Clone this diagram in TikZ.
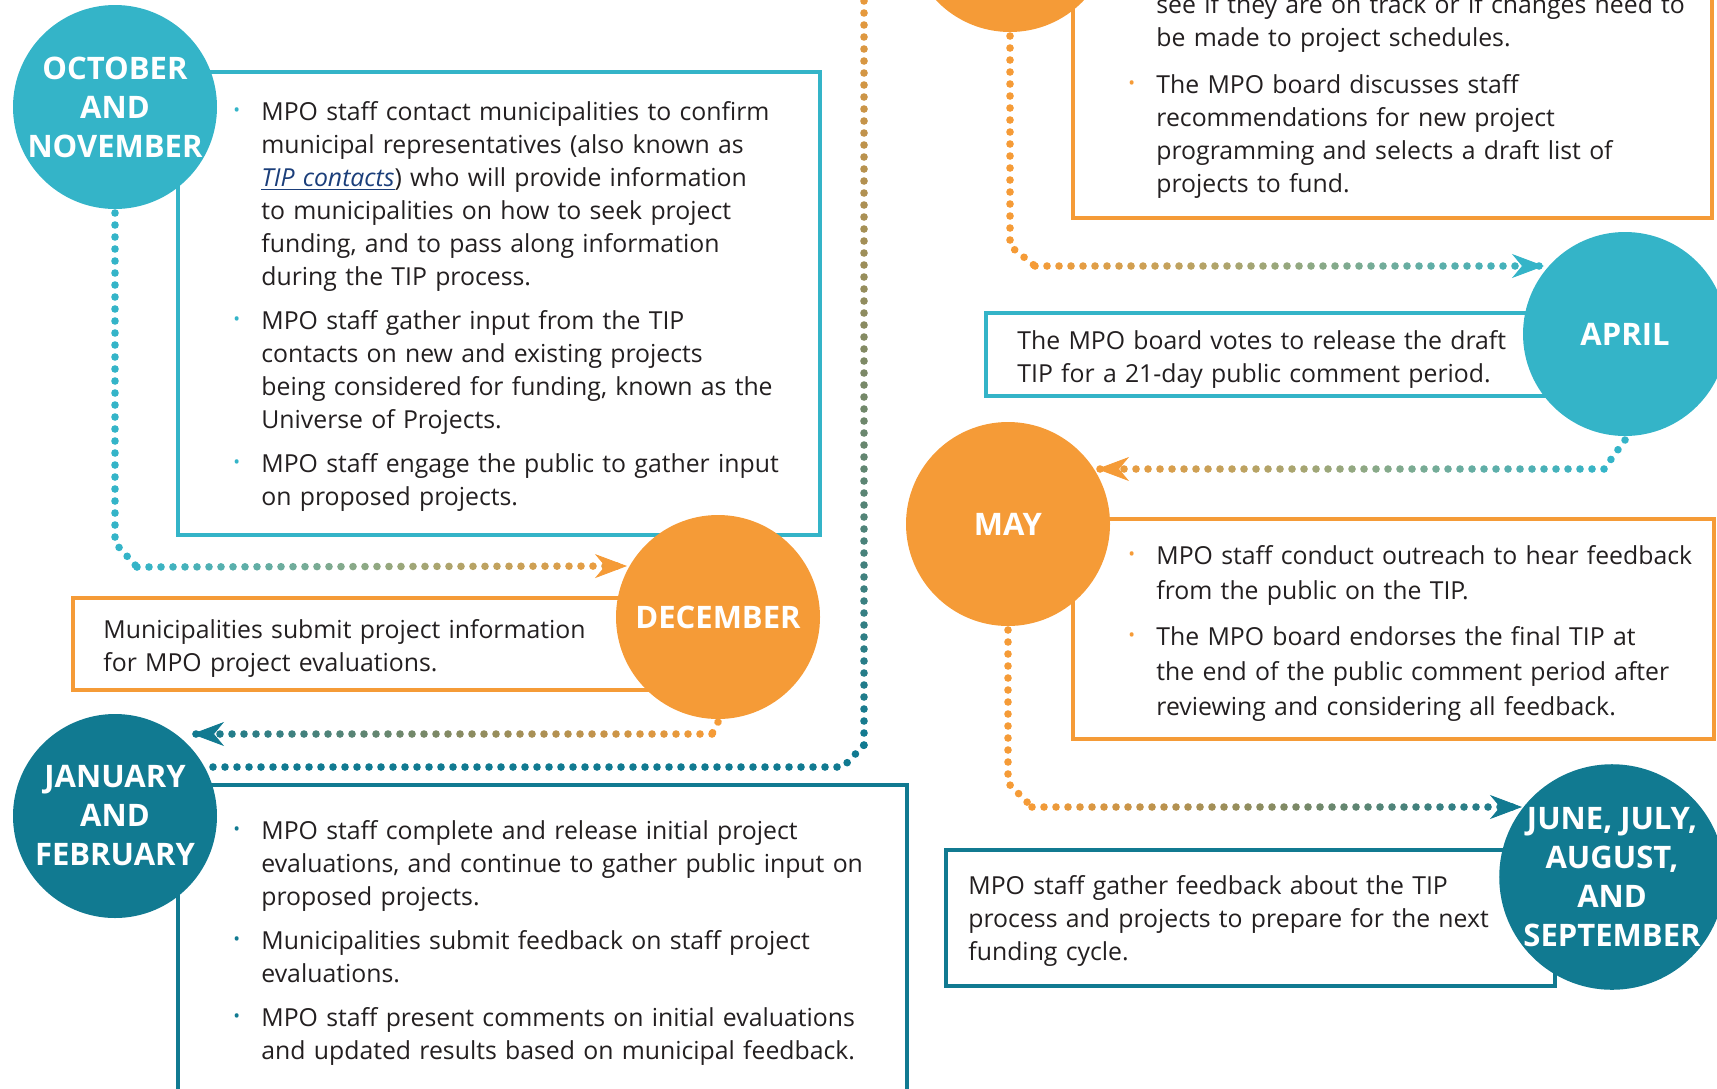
\documentclass[tikz,border=0pt]{standalone}
\usepackage{fontspec}
\setmainfont{Open Sans}
\usetikzlibrary{arrows.meta, calc, decorations.markings, fit}

\definecolor{tiplight}{HTML}{34B4C8}
\definecolor{tiporange}{HTML}{F59B37}
\definecolor{tipdark}{HTML}{117A91}
\definecolor{tiptext}{HTML}{231F20}
\definecolor{tiplink}{HTML}{1B3E7A}

% one bullet of a step list: colour, text
\newcommand\tipitem[2]{{\leftskip=14pt\noindent
  \llap{\makebox[14pt][l]{\raisebox{2pt}{\textcolor{#1}{\fontsize{9}{9}\selectfont\textbullet}}}}\strut #2\par}\vspace{5.5pt}}

\tikzset{
	month/.style={circle, minimum size=102pt, inner sep=0pt, text=white, align=center,
		font=\fontsize{15.5}{19.5}\selectfont\bfseries},
	panel/.style={draw=#1, line width=2.2pt, inner sep=0pt},
	blurb/.style={anchor=north west, inner sep=0pt, text width=360pt, align=left, text=tiptext,
		font=\fontsize{12.4}{16.5}\selectfont},
	dots/.style={decorate, decoration={markings,
		mark=between positions 0 and 1 step 6pt with {\fill[#1] (0,0) circle (1.9pt);}}},
	fade/.style 2 args={decorate, decoration={markings,
		mark=between positions 0 and 1 step 6pt with {%
			\pgfmathtruncatemacro\fademix{(\pgfkeysvalueof{/pgf/decoration/mark info/distance from start}/\pgfdecoratedpathlength)*100}%
			\fill[#2!\fademix!#1] (0,0) circle (1.9pt);},
		mark=at position 1 with {\arrow[#2]{Stealth[length=16pt, width=12pt, inset=5pt]}}}},
}

\begin{document}
\begin{tikzpicture}[x=0.5pt, y=-0.5pt]
	\useasboundingbox (0,0) rectangle (1717,1088);

	% boxes
	\node[panel=tiplight, fit={(178,72) (820,535)}] (octbox) {};
	\node[panel=tiporange, fit={(73,598) (700,690)}] (decbox) {};
	\node[panel=tipdark, fit={(178,785) (907,1120)}] (janbox) {};
	\node[panel=tiporange, fit={(1073,-200) (1712,218)}] (marbox) {};
	\node[panel=tiplight, fit={(986,313) (1600,396)}] (aprbox) {};
	\node[panel=tiporange, fit={(1073,519) (1714,739)}] (maybox) {};
	\node[panel=tipdark, fit={(946,850) (1555,986)}] (junbox) {};

	% texts
	\node[blurb] (octtext) at (233,97) {%
		\tipitem{tiplight}{MPO staff contact municipalities to confirm\\
			municipal representatives (also known as\\
			\textcolor{tiplink}{\underline{\textit{TIP contacts}}}) who will provide information\\
			to municipalities on how to seek project\\
			funding, and to pass along information\\
			during the TIP process.}
		\tipitem{tiplight}{MPO staff gather input from the TIP\\
			contacts on new and existing projects\\
			being considered for funding, known as the\\
			Universe of Projects.}
		\tipitem{tiplight}{MPO staff engage the public to gather input\\
			on proposed projects.}};
	\node[blurb] (dectext) at (103,615) {\strut Municipalities submit project information\\
		for MPO project evaluations.};
	\node[blurb] (jantext) at (233,816) {%
		\tipitem{tipdark}{MPO staff complete and release initial project\\
			evaluations, and continue to gather public input on\\
			proposed projects.}
		\tipitem{tipdark}{Municipalities submit feedback on staff project\\
			evaluations.}
		\tipitem{tipdark}{MPO staff present comments on initial evaluations\\
			and updated results based on municipal feedback.}};
	\node[blurb] (martext) at (1128,-10) {%
		{\leftskip=14pt\noindent\strut see if they are on track or if changes need to\\
			be made to project schedules.\par}\vspace{7pt}
		\tipitem{tiporange}{The MPO board discusses staff\\
			recommendations for new project\\
			programming and selects a draft list of\\
			projects to fund.}};
	\node[blurb] (aprtext) at (1017,326) {\strut The MPO board votes to release the draft\\
		TIP for a 21-day public comment period.};
	\node[blurb, font=\fontsize{12.4}{17.5}\selectfont] (maytext) at (1128,540) {%
		\tipitem{tiporange}{MPO staff conduct outreach to hear feedback\\
			from the public on the TIP.}
		\tipitem{tiporange}{The MPO board endorses the final TIP at\\
			the end of the public comment period after\\
			reviewing and considering all feedback.}};
	\node[blurb] (juntext) at (968,871) {\strut MPO staff gather feedback about the TIP\\
		process and projects to prepare for the next\\
		funding cycle.};

	% months
	\node[month, fill=tiplight] (oct) at (115,107) {OCTOBER\\AND\\NOVEMBER};
	\node[month, fill=tiporange] (dec) at (718,617) {DECEMBER};
	\node[month, fill=tipdark] (jan) at (115,816) {JANUARY\\AND\\FEBRUARY};
	\node[month, fill=tiporange] (mar) at (1010,-70) {};
	\node[month, fill=tiplight] (apr) at (1625,334) {APRIL};
	\node[month, fill=tiporange] (may) at (1008,524) {MAY};
	\node[month, fill=tipdark, minimum size=110pt] (jun) at (1612,877) {JUNE, JULY,\\AUGUST,\\AND\\SEPTEMBER};

	% connectors
	\path[dots=tiplight] ($(oct)+(0,106)$) -- ++(0,330) -- ++(22,24) coordinate (od);
	\path[fade={tiplight}{tiporange}] (od) -- ($(dec)+(-91,-51)$);
	\path[dots=tiporange] ($(dec)+(0,105)$) -- ++(-6,12) coordinate (dj);
	\path[fade={tiporange}{tipdark}] (dj) -- ($(jan)+(77,-82)$);
	\path[dots=tipdark] ($(jan)+(98,-49)$) -- (843,767) -- (864,745) coordinate (jm);
	\path[fade={tipdark}{tiporange}] (jm) -- ($(mar)+(-146,30)$);
	\path[dots=tiporange] ($(mar)+(0,106)$) -- ++(0,210) -- ++(25,20) coordinate (ma);
	\path[fade={tiporange}{tiplight}] (ma) -- ($(apr)+(-81,-68)$);
	\path[dots=tiplight] ($(apr)+(0,106)$) -- ++(-21,29) coordinate (am);
	\path[fade={tiplight}{tiporange}] (am) -- ($(may)+(89,-55)$);
	\path[dots=tiporange] ($(may)+(0,106)$) -- ++(0,153) -- ++(24,24) coordinate (mj);
	\path[fade={tiporange}{tipdark}] (mj) -- ($(jun)+(-90,-70)$);
\end{tikzpicture}
\end{document}
